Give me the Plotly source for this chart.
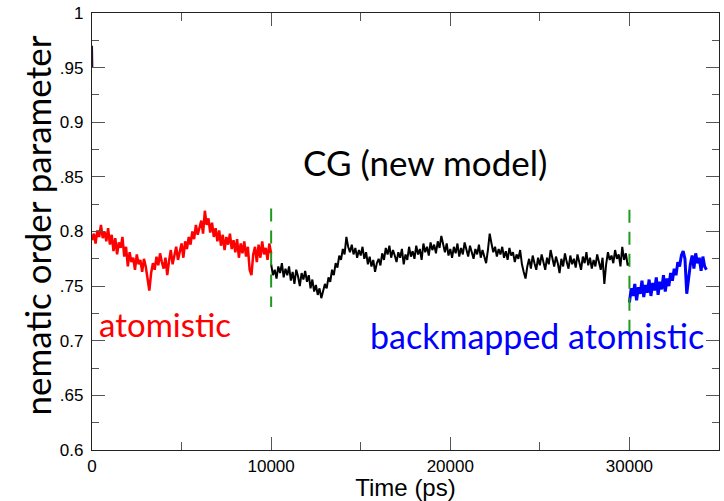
import plotly.graph_objects as go

# ---- data ----
red_t = list(range(0, 10001, 100))
red_y = [
    0.792, 0.798, 0.789, 0.801, 0.795, 0.806, 0.794, 0.800, 0.791, 0.803,
    0.788, 0.797, 0.782, 0.794, 0.779, 0.790, 0.785, 0.795, 0.777, 0.786,
    0.768, 0.781, 0.772, 0.776, 0.765, 0.779, 0.770, 0.774, 0.763, 0.775,
    0.768, 0.756, 0.746, 0.762, 0.771, 0.765, 0.777, 0.769, 0.780, 0.772,
    0.766, 0.776, 0.760, 0.773, 0.783, 0.770, 0.778, 0.786, 0.774, 0.781,
    0.789, 0.776, 0.791, 0.784, 0.795, 0.788, 0.800, 0.793, 0.806, 0.797,
    0.803, 0.810, 0.798, 0.819, 0.806, 0.812, 0.799, 0.808, 0.795, 0.803,
    0.791, 0.801, 0.787, 0.797, 0.783, 0.795, 0.788, 0.798, 0.784, 0.792,
    0.781, 0.793, 0.776, 0.789, 0.780, 0.791, 0.777, 0.786, 0.765, 0.760,
    0.779, 0.786, 0.772, 0.788, 0.776, 0.791, 0.779, 0.785, 0.774, 0.789,
    0.780,
]

cg_t = list(range(10000, 30001, 100))
cg_y = [
    0.770, 0.760, 0.765, 0.757, 0.768, 0.762, 0.771, 0.758, 0.766, 0.760,
    0.768, 0.755, 0.763, 0.752, 0.765, 0.759, 0.750, 0.762, 0.756, 0.764,
    0.754, 0.760, 0.748, 0.756, 0.745, 0.751, 0.742, 0.748, 0.739, 0.746,
    0.752, 0.748, 0.758, 0.754, 0.765, 0.760, 0.771, 0.767, 0.778, 0.774,
    0.784, 0.779, 0.795, 0.786, 0.781, 0.788, 0.779, 0.785, 0.776, 0.783,
    0.778, 0.786, 0.775, 0.781, 0.770, 0.777, 0.768, 0.774, 0.763, 0.771,
    0.775, 0.769, 0.780, 0.774, 0.785, 0.779, 0.787, 0.776, 0.783, 0.778,
    0.772, 0.781, 0.776, 0.784, 0.770, 0.779, 0.774, 0.786, 0.777, 0.782,
    0.775, 0.787, 0.779, 0.784, 0.774, 0.789, 0.781, 0.786, 0.778, 0.790,
    0.783, 0.788, 0.780, 0.791, 0.785, 0.796, 0.787, 0.781, 0.789, 0.778,
    0.784, 0.776, 0.786, 0.780, 0.789, 0.777, 0.785, 0.779, 0.790, 0.782,
    0.777, 0.787, 0.781, 0.775, 0.784, 0.779, 0.788, 0.776, 0.783, 0.778,
    0.771, 0.783, 0.798, 0.789, 0.781, 0.786, 0.777, 0.784, 0.779, 0.786,
    0.776, 0.782, 0.774, 0.785, 0.778, 0.781, 0.772, 0.779, 0.775, 0.783,
    0.770, 0.763, 0.757, 0.768, 0.775, 0.766, 0.778, 0.771, 0.765, 0.776,
    0.769, 0.779, 0.772, 0.765, 0.776, 0.770, 0.783, 0.774, 0.768, 0.777,
    0.771, 0.762, 0.775, 0.768, 0.780, 0.772, 0.766, 0.778, 0.770, 0.775,
    0.767, 0.779, 0.773, 0.765, 0.777, 0.771, 0.781, 0.769, 0.776, 0.766,
    0.774, 0.768, 0.779, 0.772, 0.765, 0.776, 0.752, 0.770, 0.781, 0.774,
    0.778, 0.771, 0.783, 0.775, 0.779, 0.768, 0.786, 0.774, 0.780, 0.769,
    0.771,
]

bm_t = list(range(30000, 34301, 100))
bm_y = [
    0.735, 0.748, 0.741, 0.752, 0.737, 0.749, 0.743, 0.755, 0.740, 0.751,
    0.744, 0.756, 0.741, 0.753, 0.746, 0.758, 0.742, 0.754, 0.747, 0.760,
    0.745, 0.757, 0.750, 0.762, 0.755, 0.766, 0.760, 0.772, 0.768, 0.778,
    0.782, 0.775, 0.743, 0.760, 0.770, 0.778, 0.766, 0.780, 0.771, 0.776,
    0.764, 0.777, 0.768, 0.765,
]

start_t = [0, 20]
start_y = [0.970, 0.950]

divider_t = [10000, 30000]
divider_top = [0.821, 0.820]
divider_bottom = [0.731, 0.700]

y_tickvals = [0.6, 0.65, 0.7, 0.75, 0.8, 0.85, 0.9, 0.95, 1.0]
y_ticktext = ["0.6", ".65", "0.7", ".75", "0.8", ".85", "0.9", ".95", "1"]
x_tickvals = [0, 10000, 20000, 30000]
x_ticktext = ["0", "10000", "20000", "30000"]

labels = [
    ("CG (new model)", 18590, 0.864, "black", 35),
    ("atomistic", 4096, 0.7156, "#ff0000", 33),
    ("backmapped atomistic", 24857, 0.7046, "#0000ff", 34),
]

fig = go.Figure()
fig.add_trace(go.Scatter(x=start_t, y=start_y, mode="lines",
                         line=dict(color="#2a0a2a", width=2), showlegend=False))
fig.add_trace(go.Scatter(x=red_t, y=red_y, mode="lines",
                         line=dict(color="#ff0000", width=2.5), showlegend=False))
fig.add_trace(go.Scatter(x=cg_t, y=cg_y, mode="lines",
                         line=dict(color="#000000", width=2), showlegend=False))
fig.add_trace(go.Scatter(x=bm_t, y=bm_y, mode="lines",
                         line=dict(color="#0000ff", width=3), showlegend=False))
for t, top, bot in zip(divider_t, divider_top, divider_bottom):
    fig.add_trace(go.Scatter(x=[t, t], y=[top, bot], mode="lines",
                             line=dict(color="#1e9a1e", width=2, dash="13px,9px"),
                             showlegend=False))

for text, x, y, color, size in labels:
    fig.add_annotation(x=x, y=y, xref="x", yref="y", text=text, showarrow=False,
                       xanchor="center", yanchor="middle",
                       font=dict(family="Lato", size=size, color=color))

fig.add_annotation(x=-0.0876, y=0.514, xref="paper", yref="paper",
                   text="nematic order parameter", textangle=-90, showarrow=False,
                   xanchor="center", yanchor="middle",
                   font=dict(family="Lato", size=35, color="black"))

axis_common = dict(
    showgrid=False, zeroline=False, showline=True, linecolor="#222222", linewidth=1.2,
    mirror="allticks", ticks="inside", tickcolor="#555555", tickwidth=1.2,
    tickfont=dict(family="Liberation Sans", size=17, color="black"),
)

fig.update_xaxes(range=[0, 35000], tickvals=x_tickvals, ticktext=x_ticktext, ticklen=13,
                 minor=dict(dtick=5000, tick0=0, ticks="inside", ticklen=8,
                            tickcolor="#555555", tickwidth=1.2),
                 title=dict(text="Time (ps)", font=dict(family="Liberation Sans", size=24,
                                                       color="black"), standoff=2),
                 **axis_common)
fig.update_yaxes(range=[0.6, 1.0], tickvals=y_tickvals, ticktext=y_ticktext, ticklen=13,
                 minor=dict(dtick=0.025, tick0=0.6, ticks="inside", ticklen=7,
                            tickcolor="#555555", tickwidth=1.2),
                 ticklabelstandoff=4,
                 **axis_common)

fig.update_layout(width=724, height=501, margin=dict(l=92, r=4, t=10, b=51),
                  plot_bgcolor="white", paper_bgcolor="white")

fig.write_html("out.html")
